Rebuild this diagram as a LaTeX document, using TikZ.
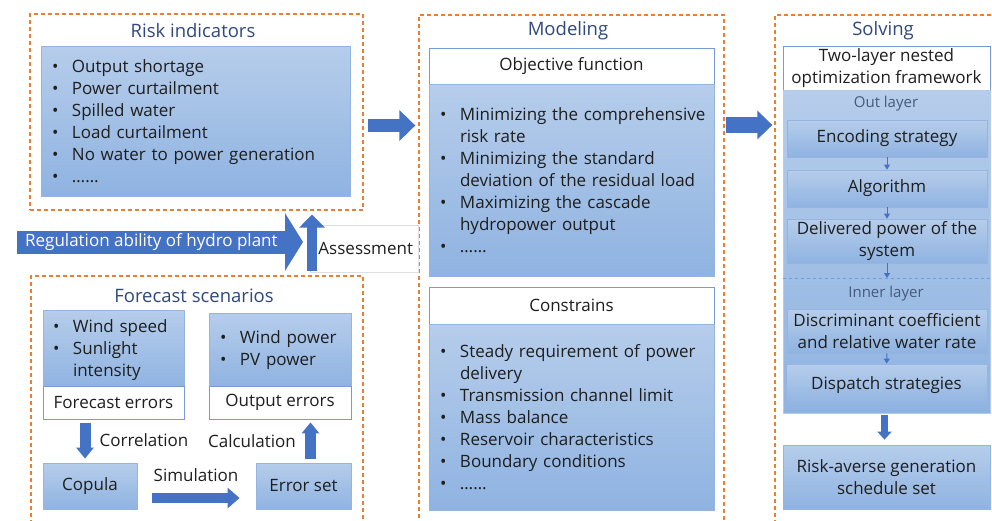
\documentclass[tikz,border=0pt]{standalone}
\usepackage{fontspec}
\setmainfont{Open Sans}
\usepackage{tikz}
\usetikzlibrary{arrows.meta, positioning, calc}
\definecolor{boxtop}{RGB}{182,205,235}
\definecolor{boxbot}{RGB}{143,179,225}
\definecolor{boxline}{RGB}{150,180,225}
\definecolor{headline}{RGB}{120,155,215}
\definecolor{arrowblue}{RGB}{68,114,196}
\definecolor{dashorange}{RGB}{237,125,49}
\definecolor{titleblue}{RGB}{47,72,125}
\definecolor{layergray}{RGB}{70,90,125}
\definecolor{bodytext}{RGB}{30,30,30}
\hyphenpenalty=10000
\exhyphenpenalty=10000
\newcommand{\bitem}[1]{\par\hangindent=20pt\hangafter=1\noindent\makebox[20pt][l]{\textbullet}#1}
\newcommand{\liststart}[1]{\leftskip=#1pt\relax}
\newcommand{\listend}{\par\vspace{8pt}}
\tikzstyle{group} = [rectangle, draw=dashorange, line width=1.3pt, dash pattern=on 4pt off 3pt]
\tikzstyle{grouptitle} = [text=titleblue, font=\fontsize{18.5}{23}\selectfont]
\tikzstyle{gradbox} = [rectangle, draw=boxline, line width=0.8pt, top color=boxtop, bottom color=boxbot, text=bodytext, align=center, font=\fontsize{17}{22}\selectfont]
\tikzstyle{listbox} = [gradbox, align=left, inner sep=0pt]
\tikzstyle{headbox} = [rectangle, draw=headline, line width=0.8pt, fill=white, text=bodytext, align=center, font=\fontsize{17}{22}\selectfont]
\tikzstyle{steplabel} = [text=bodytext, font=\fontsize{17}{22}\selectfont]
\tikzstyle{layerlabel} = [text=layergray, font=\fontsize{15}{18}\selectfont]
\tikzstyle{bigarrow} = [arrowblue, line width=13pt, -{Triangle[length=16pt, width=30pt]}]
\tikzstyle{midarrow} = [arrowblue, line width=10pt, -{Triangle[length=12pt, width=20pt]}]
\tikzstyle{smallarrow} = [arrowblue, line width=1pt, -{Triangle[length=5pt, width=6pt]}]

\begin{document}
\begin{tikzpicture}[x=1pt, y=-1pt]
        \useasboundingbox (0,0) rectangle (992,520);

        % Risk indicators
        \node (risk) [group, minimum width=333, minimum height=196] at (196.5,112) {};
        \node (risktitle) [grouptitle] at (193,31) {Risk indicators};
        \node (risklist) [listbox, minimum height=150, text width=309] at (195.5,121)
          {\liststart{11}\bitem{Output shortage}\bitem{Power curtailment}\bitem{Spilled water}\bitem{Load curtailment}\bitem{No water to power generation}\bitem{……}\listend};

        % Forecast scenarios
        \node (forecast) [group, minimum width=332, minimum height=254] at (197,403) {};
        \node (forecasttitle) [grouptitle] at (194,296) {Forecast scenarios};
        \node (weather) [listbox, minimum height=73, text width=141] at (113.5,349.5)
          {\liststart{10}\bitem{Wind speed}\bitem{Sunlight intensity}\listend};
        \node (fcerr) [headbox, minimum width=141, minimum height=33] at (113.5,402.5) {Forecast errors};
        \node (power) [listbox, minimum height=73, text width=142] at (280,349.5)
          {\liststart{11}\bitem{Wind power}\bitem{PV power}\listend};
        \node (outerr) [headbox, minimum width=142, minimum height=33] at (280,402.5) {Output errors};
        \node (copula) [gradbox, minimum width=94, minimum height=46] at (90,486) {Copula};
        \node (errset) [gradbox, minimum width=95, minimum height=46] at (303.5,486) {Error set};
        \node (corr) [steplabel] at (144,440) {Correlation};
        \node (calc) [steplabel] at (252,441) {Calculation};
        \node (simu) [steplabel] at (196,475) {Simulation};

        % Modeling
        \node (model) [group, minimum width=305, minimum height=515] at (571.5,272.5) {};
        \node (modeltitle) [grouptitle] at (568,31) {Modeling};
        \node (objhead) [headbox, minimum width=285, minimum height=36] at (571.5,66) {Objective function};
        \node (objlist) [listbox, minimum height=192, text width=285] at (571.5,180)
          {\liststart{11}\bitem{Minimizing the comprehensive risk rate}\bitem{Minimizing the standard deviation of the residual load}\bitem{Maximizing the cascade hydropower output}\bitem{……}\listend};
        \node (conhead) [headbox, minimum width=285, minimum height=37] at (571.5,305.5) {Constrains};
        \node (conlist) [listbox, minimum height=186, text width=285] at (571.5,417)
          {\liststart{11}\bitem{Steady requirement of power delivery}\bitem{Transmission channel limit}\bitem{Mass balance}\bitem{Reservoir characteristics}\bitem{Boundary conditions}\bitem{……}\listend};

        % Solving
        \node (solve) [group, minimum width=225, minimum height=515] at (887.5,272.5) {};
        \node (solvetitle) [grouptitle] at (883,31) {Solving};
        \node (nested) [headbox, minimum width=207, minimum height=44, inner sep=0pt] at (886.5,68) {Two-layer nested\\optimization framework};
        \node (layers) [gradbox, draw=boxline!70, minimum width=207, minimum height=323] at (886.5,251.5) {};
        \node (outlabel) [layerlabel] at (886,104) {Out layer};
        \node (encode) [gradbox, minimum width=200, minimum height=37] at (887,138.5) {Encoding strategy};
        \node (algo) [gradbox, minimum width=200, minimum height=37] at (887,188.5) {Algorithm};
        \node (deliver) [gradbox, minimum width=200, minimum height=44, inner sep=0pt] at (887,241) {Delivered power of the\\system};
        \draw [headline, dashed, line width=0.6pt] (layers.west |- 0,278) coordinate (split) -- (layers.east |- 0,278);
        \node (innerlabel) [layerlabel] at (886,294) {Inner layer};
        \node (discr) [gradbox, minimum width=200, minimum height=44, inner sep=0pt] at (887,331) {Discriminant coefficient\\and relative water rate};
        \node (dispatch) [gradbox, minimum width=201, minimum height=43] at (886.5,385.5) {Dispatch strategies};
        \node (riskav) [gradbox, minimum width=207, minimum height=64, inner sep=0pt] at (886.5,477) {Risk-averse generation\\schedule set};

        % Regulation and assessment
        \node (assess) [steplabel, draw=gray!25, line width=0.6pt, minimum width=108, minimum height=47, inner xsep=0pt, text width=98, align=right] at (364,248.5) {Assessment};
        \coordinate (regstart) at (17,242);
        \coordinate (regend) at (303,242);
        \draw [arrowblue, line width=23pt, -{Triangle[length=18pt, width=57pt]}] (regstart) -- (regend)
          node [pos=0.47, text=white, font=\fontsize{17}{22}\selectfont] {Regulation ability of hydro plant};
        \coordinate (assessbase) at (312,271);
        \draw [arrowblue, line width=10pt, -{Triangle[length=13pt, width=25pt]}, shorten >=4pt] (assessbase) -- (assessbase |- risk.south);

        % Arrows
        \draw [bigarrow, shorten <=4pt, shorten >=3pt] (risk.east |- 0,125.5) -- (model.west |- 0,125.5);
        \draw [bigarrow, line width=16pt, -{Triangle[length=15pt, width=28pt]}, shorten <=1pt, shorten >=2pt] (model.east |- 0,125) -- (solve.west |- 0,125);
        \draw [midarrow, line width=11pt, -{Triangle[length=11pt, width=17pt]}, shorten <=4pt, shorten >=4pt] ([xshift=-5]copula.north |- fcerr.south) -- ([xshift=-5]copula.north);
        \draw [midarrow, line width=11pt, -{Triangle[length=11pt, width=17pt]}, shorten <=4pt, shorten >=3pt] ([xshift=7]errset.north) -- ([xshift=7]errset.north |- outerr.south);
        \draw [midarrow, shorten <=15pt, shorten >=16pt] ([yshift=-12]copula.east) -- ([yshift=-12]errset.west);
        \draw [midarrow, line width=7pt, -{Triangle[length=8pt, width=14pt]}, shorten <=2pt, shorten >=5pt] ([xshift=-2]layers.south) -- ([xshift=-2]riskav.north);
        \draw [smallarrow] (encode) -- (algo);
        \draw [smallarrow] (algo) -- (deliver);
        \draw [smallarrow] (deliver) -- (deliver |- split);
        \draw [smallarrow] (discr) -- (dispatch);
      \end{tikzpicture}
\end{document}
